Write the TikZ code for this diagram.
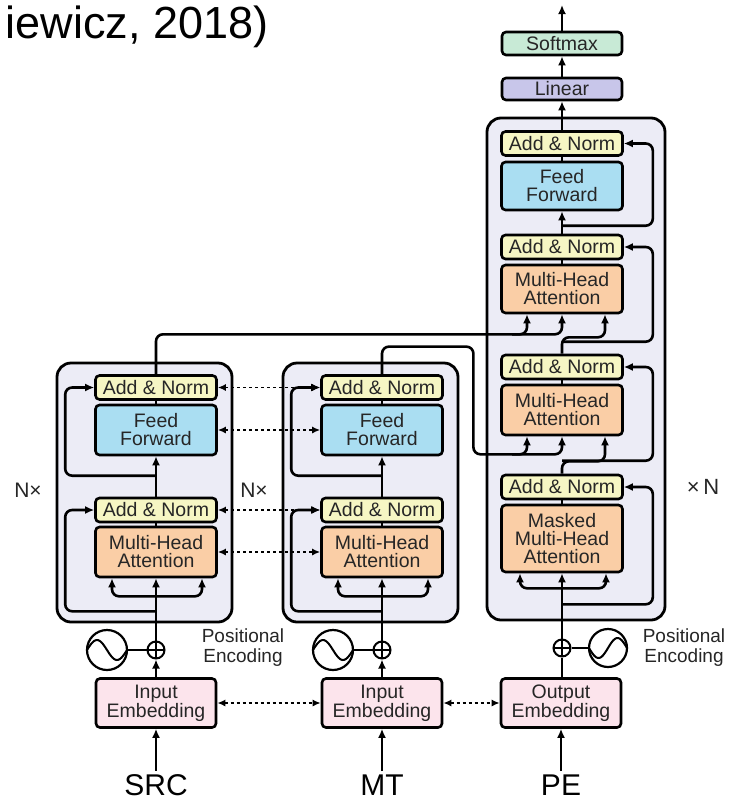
\documentclass[tikz,border=0pt]{standalone}
\usepackage{fontspec}
\setmainfont{Liberation Sans}
\usetikzlibrary{arrows.meta,calc}

\definecolor{normyellow}{RGB}{246,246,196}
\definecolor{ffblue}{RGB}{170,222,242}
\definecolor{attnorange}{RGB}{250,206,166}
\definecolor{embpink}{RGB}{252,228,236}
\definecolor{linpurple}{RGB}{200,198,234}
\definecolor{smgreen}{RGB}{200,234,214}
\definecolor{layerbg}{RGB}{236,236,246}

\tikzset{
  block/.style={draw, line width=2.6pt, rounded corners=4pt, minimum width=121, inner sep=0pt,
    align=center, font=\fontsize{19.5}{18}\selectfont, text=black!85},
  addnorm/.style={block, fill=normyellow, minimum height=24},
  feedfwd/.style={block, fill=ffblue, minimum height=50},
  attn/.style={block, fill=attnorange, minimum height=50},
  embed/.style={block, fill=embpink, minimum height=49, minimum width=120},
  layer/.style={draw, line width=2.8pt, rounded corners=14pt, fill=layerbg, inner sep=0pt},
  conn/.style={line width=2.6pt, rounded corners=7pt},
  link/.style={line width=1.6pt, dash pattern=on 3pt off 3pt,
    {Latex[length=8pt,width=7pt]}-{Latex[length=8pt,width=7pt]}},
  plus/.style={draw, circle, line width=2pt, minimum size=17, inner sep=0pt, fill=white,
    path picture={\draw[line width=1.6pt] (path picture bounding box.north) -- (path picture bounding box.south)
      (path picture bounding box.west) -- (path picture bounding box.east);}},
  wave/.style={draw, circle, line width=2.2pt, minimum size=40, inner sep=0pt},
  caption/.style={font=\fontsize{19}{20}\selectfont, align=center, text=black!85},
  tag/.style={font=\fontsize{30}{30}\selectfont},
}

\begin{document}
\begin{tikzpicture}[x=1pt, y=-1pt, >={Latex[length=9pt,width=8pt]}]

	\useasboundingbox (0,0) rectangle (730,801);
	\fill[white] (0,0) rectangle (730,801);

	\node[font=\fontsize{45}{45}\selectfont, anchor=base east] (title) at (272,38) {iewicz, 2018)};

	% layers
	\node[layer, minimum width=175, minimum height=259] (src-layer) at (144.5,492.5) {};
	\node[layer, minimum width=175, minimum height=259] (mt-layer) at (370.5,492.5) {};
	\node[layer, minimum width=178, minimum height=502] (dec-layer) at (576,369) {};

	% SRC encoder
	\node[addnorm] (src-an2) at (156,387.5) {Add \& Norm};
	\node[feedfwd] (src-ff) at (156,430) {Feed\\Forward};
	\node[addnorm] (src-an1) at (156,510) {Add \& Norm};
	\node[attn] (src-mha) at (156,552) {Multi-Head\\Attention};
	\node[plus] (src-plus) at (156,650) {};
	\node[wave] (src-wave) at (107,650) {};
	\node[embed] (src-emb) at (156,703) {Input\\Embedding};
	\node[tag] (src-in) at (156,785) {SRC};
	\node[caption] (src-pos) at (243,648) {Positional\\Encoding};
	\node[caption, font=\fontsize{21}{21}\selectfont] (src-rep) at (28,490) {N×};

	\draw[line width=2pt, shift={(src-wave.center)}] plot[domain=-20:20, samples=40, smooth] (\x, {10*sin(9*\x)});
	\draw[conn,->] (src-in) -- (src-emb);
	\draw[conn,->] (src-emb) -- (src-plus);
	\draw[conn,->] (src-plus) -- (src-mha);
	\draw[conn] (src-wave) -- (src-plus);
	\draw[conn,<->] ($(src-mha.south)+(-44,0)$) |- ($(src-mha.south)+(0,18)$) -| ($(src-mha.south)+(46,0)$);
	\draw[conn] (src-mha) -- (src-an1);
	\draw[conn,->] (src-an1) -- (src-ff);
	\draw[conn] (src-ff) -- (src-an2);
	\draw[conn,->] ($(src-mha.south)+(0,33)$) -| ($(src-an1.west)+(-29,0)$) -- (src-an1.west);
	\draw[conn,->] ($(src-an1.north)+(0,-21)$) -| ($(src-an2.west)+(-29,0)$) -- (src-an2.west);

	% MT encoder
	\node[addnorm] (mt-an2) at (382,387.5) {Add \& Norm};
	\node[feedfwd] (mt-ff) at (382,430) {Feed\\Forward};
	\node[addnorm] (mt-an1) at (382,510) {Add \& Norm};
	\node[attn] (mt-mha) at (382,552) {Multi-Head\\Attention};
	\node[plus] (mt-plus) at (382,650) {};
	\node[wave] (mt-wave) at (333,650) {};
	\node[embed] (mt-emb) at (382,703) {Input\\Embedding};
	\node[tag] (mt-in) at (382,785) {MT};
	\node[caption, font=\fontsize{21}{21}\selectfont] (mt-rep) at (254,490) {N×};

	\draw[line width=2pt, shift={(mt-wave.center)}] plot[domain=-20:20, samples=40, smooth] (\x, {10*sin(9*\x)});
	\draw[conn,->] (mt-in) -- (mt-emb);
	\draw[conn,->] (mt-emb) -- (mt-plus);
	\draw[conn,->] (mt-plus) -- (mt-mha);
	\draw[conn] (mt-wave) -- (mt-plus);
	\draw[conn,<->] ($(mt-mha.south)+(-44,0)$) |- ($(mt-mha.south)+(0,18)$) -| ($(mt-mha.south)+(46,0)$);
	\draw[conn] (mt-mha) -- (mt-an1);
	\draw[conn,->] (mt-an1) -- (mt-ff);
	\draw[conn] (mt-ff) -- (mt-an2);
	\draw[conn,->] ($(mt-mha.south)+(0,33)$) -| ($(mt-an1.west)+(-29,0)$) -- (mt-an1.west);
	\draw[conn,->] ($(mt-an1.north)+(0,-21)$) -| ($(mt-an2.west)+(-29,0)$) -- (mt-an2.west);

	% PE decoder
	\node[addnorm] (dec-an3) at (562,143.5) {Add \& Norm};
	\node[feedfwd, minimum height=48] (dec-ff) at (562,186) {Feed\\Forward};
	\node[addnorm] (dec-an2) at (562,247) {Add \& Norm};
	\node[attn, minimum height=48] (dec-cross2) at (562,289) {Multi-Head\\Attention};
	\node[addnorm] (dec-an1) at (562,367) {Add \& Norm};
	\node[attn] (dec-cross1) at (562,410) {Multi-Head\\Attention};
	\node[addnorm] (dec-an0) at (562,487) {Add \& Norm};
	\node[attn, minimum height=67] (dec-self) at (562,538.5) {Masked\\Multi-Head\\Attention};
	\node[block, fill=linpurple, minimum height=22, minimum width=120] (dec-lin) at (562,89) {Linear};
	\node[block, fill=smgreen, minimum height=23, minimum width=120] (dec-soft) at (562,43.5) {Softmax};
	\coordinate (dec-out) at (562,5);
	\node[plus] (dec-plus) at (562,648) {};
	\node[wave, minimum size=38] (dec-wave) at (608,648) {};
	\node[embed] (dec-emb) at (561,703) {Output\\Embedding};
	\node[tag] (dec-in) at (561,785) {PE};
	\node[caption] (dec-pos) at (684,648) {Positional\\Encoding};
	\node[caption, font=\fontsize{22}{22}\selectfont] (dec-rep) at (703,487) {×\,N};

	\draw[line width=2pt, shift={(dec-wave.center)}] plot[domain=-19:19, samples=40, smooth] (\x, {-10*sin(9.47*\x)});
	\draw[conn,->] (dec-in) -- (dec-emb);
	\draw[conn] (dec-emb.north -| dec-plus) -- (dec-plus);
	\draw[conn,->] (dec-plus) -- (dec-self);
	\draw[conn] (dec-wave) -- (dec-plus);
	\draw[conn,<->] ($(dec-self.south)+(-42,0)$) |- ($(dec-self.south)+(0,15)$) -| ($(dec-self.south)+(44,0)$);
	\draw[conn] (dec-self) -- (dec-an0);
	\draw[conn,->] ($(dec-self.south)+(0,31)$) -| ($(dec-an0.east)+(29,0)$) -- (dec-an0.east);
	\draw[conn,->] (dec-an0.north) |- ($(dec-cross1.south)+(43,25)$) -- ($(dec-cross1.south)+(43,0)$);
	\draw[conn,->] ($(dec-an0.north)+(0,-13)$) -| ($(dec-an1.east)+(29,0)$) -- (dec-an1.east);
	\draw[conn] (dec-cross1) -- (dec-an1);
	\draw[conn,->] (dec-an1.north) |- ($(dec-cross2.south)+(43,23)$) -- ($(dec-cross2.south)+(43,0)$);
	\draw[conn,->] ($(dec-an1.north)+(0,-12)$) -| ($(dec-an2.east)+(29,0)$) -- (dec-an2.east);
	\draw[conn] (dec-cross2) -- (dec-an2);
	\draw[conn,->] (dec-an2) -- (dec-ff);
	\draw[conn,->] ($(dec-an2.north)+(0,-8)$) -| ($(dec-an3.east)+(29,0)$) -- (dec-an3.east);
	\draw[conn] (dec-ff) -- (dec-an3);
	\draw[conn,->] (dec-an3) -- (dec-lin);
	\draw[conn,->] (dec-lin) -- (dec-soft);
	\draw[conn,->] (dec-soft) -- (dec-out);

	% encoder outputs into the decoder
	\draw[conn,->] (src-an2.north) |- ($(dec-cross2.south)+(0,20)$) -- (dec-cross2.south);
	\draw[conn,->] ($(dec-cross2.south)+(-50,20)$) -| ($(dec-cross2.south)+(-35,0)$);
	\draw[conn,->] (mt-an2.north) |- ($(mt-layer.north east)+(14,-15)$) |- ($(dec-cross1.south)+(0,18)$) -- (dec-cross1.south);
	\draw[conn,->] ($(dec-cross1.south)+(-50,18)$) -| ($(dec-cross1.south)+(-35,0)$);

	% shared parameters
	\draw[link] (src-an2) -- (mt-an2);
	\draw[link] (src-ff) -- (mt-ff);
	\draw[link] (src-an1) -- (mt-an1);
	\draw[link] (src-mha) -- (mt-mha);
	\draw[link] (src-emb) -- (mt-emb);
	\draw[link] (mt-emb) -- (dec-emb);

\end{tikzpicture}
\end{document}
